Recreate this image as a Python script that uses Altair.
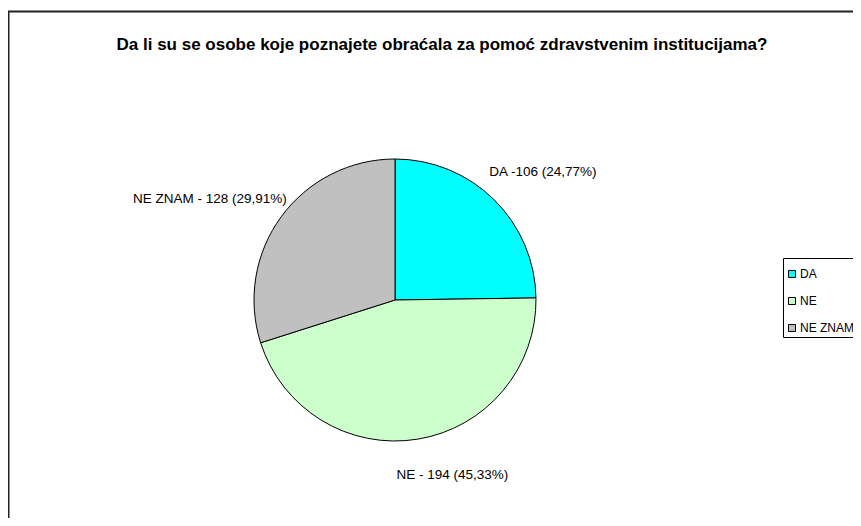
import math
import altair as alt
import pandas as pd

# ---- data ----
categories = ["DA", "NE", "NE ZNAM"]
counts = [106, 194, 128]
labels = ["DA -106 (24,77%)", "NE - 194 (45,33%)", "NE ZNAM - 128 (29,91%)"]
colors = ["#00FFFF", "#CCFFCC", "#C0C0C0"]
title_text = "Da li su se osobe koje poznajete obraćala za pomoć zdravstvenim institucijama?"

df = pd.DataFrame({
    "category": categories,
    "count": counts,
    "label": labels,
    "order": list(range(len(categories))),
})

W, H = 845, 510
CX, CY = 387, 292
R = 141
FONT = "Liberation Sans"

total = sum(counts)
theta_scale = alt.Scale(domain=[0, total], range=[0, 2 * math.pi])

stacked = (
    alt.Chart(df)
    .transform_stack(stack="count", groupby=[], as_=["start", "end"],
                     sort=[alt.SortField("order")])
    .transform_calculate(mid="(datum.start + datum.end) / 2")
)

pie = stacked.mark_arc(radius=R, stroke="black", strokeWidth=1).encode(
    x=alt.value(CX),
    y=alt.value(CY),
    theta=alt.Theta("start:Q", scale=theta_scale),
    theta2="end:Q",
    color=alt.Color(
        "category:N",
        scale=alt.Scale(domain=categories, range=colors),
        legend=alt.Legend(
            title=" ",
            titleFontSize=7,
            titlePadding=0,
            orient="none",
            legendX=775,
            legendY=250,
            padding=3,
            strokeColor="black",
            fillColor="white",
            symbolType="square",
            symbolSize=49,
            symbolStrokeColor="black",
            symbolStrokeWidth=1,
            labelFont=FONT,
            labelFontSize=12,
            labelColor="black",
            labelOffset=2,
            rowPadding=15,
        ),
    ),
)


def label_layer(cat, radius, align, dx, dy):
    return (
        stacked.transform_filter(alt.datum.category == cat)
        .mark_text(radius=radius, align=align, baseline="middle", dx=dx, dy=dy,
                   font=FONT, fontSize=13.5, color="black")
        .encode(
            x=alt.value(CX),
            y=alt.value(CY),
            theta=alt.Theta("mid:Q", scale=theta_scale),
            text="label:N",
        )
    )


lab_da = label_layer("DA", 160, "left", -18, -14)
lab_ne = label_layer("NE", 177, "center", 29, 0)
lab_nz = label_layer("NE ZNAM", 160, "right", 21, -7)

title = alt.Chart(pd.DataFrame({"t": [title_text]})).mark_text(
    font=FONT, fontSize=17, fontWeight="bold", align="center", baseline="middle",
    color="black",
).encode(x=alt.value(434), y=alt.value(37), text="t:N")

frame_df = pd.DataFrame({"k": [0]})
frame_top = alt.Chart(frame_df).mark_rule(color="#222", strokeWidth=2).encode(
    x=alt.value(0), x2=alt.value(W), y=alt.value(3.5)
)
frame_left = alt.Chart(frame_df).mark_rule(color="#222", strokeWidth=2).encode(
    x=alt.value(0.5), y=alt.value(3), y2=alt.value(H)
)

chart = (
    alt.layer(frame_top, frame_left, title, pie, lab_da, lab_ne, lab_nz)
    .properties(width=W, height=H, autosize=alt.AutoSizeParams(type="none"), padding=0,
                background="white")
    .configure_view(stroke=None)
)

chart.save("out.html", embed_options={"renderer": "svg", "actions": False})
